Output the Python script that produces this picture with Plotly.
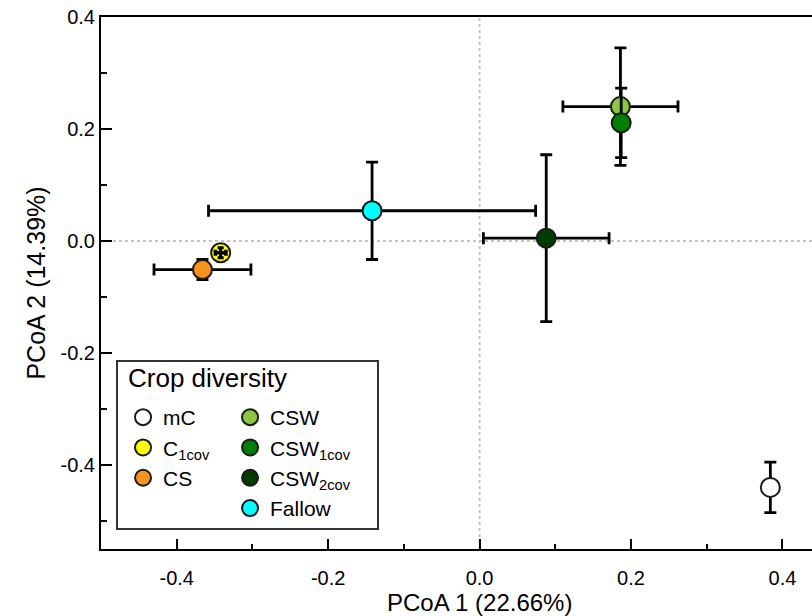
import plotly.graph_objects as go

# ---- data ----
groups = ["mC", "C<sub>1cov</sub>", "CS", "CSW", "CSW<sub>1cov</sub>", "CSW<sub>2cov</sub>", "Fallow"]
pc1 = [0.384, -0.342, -0.366, 0.186, 0.187, 0.088, -0.142]
pc2 = [-0.440, -0.021, -0.051, 0.240, 0.211, 0.005, 0.054]
pc1_err = [0.0, 0.007, 0.064, 0.076, 0.0, 0.083, 0.216]
pc2_err = [0.045, 0.009, 0.018, 0.105, 0.062, 0.149, 0.087]
colors = ["#ffffff", "#ffff00", "#f7941d", "#8dc63f", "#008000", "#003b00", "#00ffff"]
legend_column = ["a", "a", "a", "b", "b", "b", "b"]

x_ticks = [-0.4, -0.2, 0.0, 0.2, 0.4]
x_ticklabels = ["-0.4", "-0.2", "0.0", "0.2", "0.4"]
x_minor = [-0.5, -0.3, -0.1, 0.1, 0.3]
y_ticks = [-0.4, -0.2, 0.0, 0.2, 0.4]
y_ticklabels = ["-0.4", "-0.2", "0.0", "0.2", "0.4"]
y_minor = [-0.5, -0.3, -0.1, 0.1, 0.3]

x_title = "PCoA 1 (22.66%)"
y_title = "PCoA 2 (14.39%)"
legend_title = "Crop diversity"

FONT = "Arial, 'Liberation Sans', sans-serif"

fig = go.Figure()

draw_order = [0, 2, 1, 6, 5, 3, 4]
for i in draw_order:
    fig.add_trace(go.Scatter(
        x=[pc1[i]], y=[pc2[i]],
        mode="markers",
        name=groups[i],
        legendgroup=legend_column[i],
        legendrank=i + 1,
        legendwidth=62 if legend_column[i] == "a" else 80,
        marker=dict(size=19, color=colors[i], line=dict(color="#1a1a1a", width=2)),
        error_x=dict(type="data", array=[pc1_err[i]], color="black", thickness=2.8, width=6),
        error_y=dict(type="data", array=[pc2_err[i]], color="black", thickness=2.8, width=6),
        hoverinfo="skip",
    ))

# small error cross of C1cov drawn over its marker
fig.add_trace(go.Scatter(
    x=[pc1[1]], y=[pc2[1]], mode="markers", showlegend=False,
    marker=dict(size=1, color="rgba(0,0,0,0)"),
    error_x=dict(type="data", array=[pc1_err[1]], color="black", thickness=3.5, width=3),
    error_y=dict(type="data", array=[pc2_err[1]], color="black", thickness=3, width=3),
    hoverinfo="skip",
))

# dotted zero reference lines
fig.add_shape(type="line", xref="x", yref="paper", x0=0, x1=0, y0=0, y1=1,
              line=dict(color="#c4c4c4", width=2, dash="dot"), layer="below")
fig.add_shape(type="line", xref="paper", yref="y", x0=0, x1=1, y0=0, y1=0,
              line=dict(color="#c4c4c4", width=2, dash="dot"), layer="below")

# legend frame
fig.add_shape(type="rect", xref="paper", yref="paper",
              x0=0.0225, x1=0.3896, y0=0.0376, y1=0.3534,
              line=dict(color="#333333", width=2), fillcolor="white", layer="below")

# legend title
fig.add_annotation(text=legend_title, xref="paper", yref="paper",
                   x=0.0352, y=0.3214, xanchor="left", yanchor="middle",
                   showarrow=False, font=dict(size=26, family=FONT, color="black"))

# x-axis title (centred on x = 0 like the original, whose axis extends past the crop)
fig.add_annotation(text=x_title, xref="x", yref="paper", x=0, y=0,
                   xanchor="center", yanchor="middle", yshift=-53,
                   showarrow=False, font=dict(size=24, family=FONT, color="black"))

axis_common = dict(
    showgrid=False, zeroline=False, showline=True, linecolor="black", linewidth=2,
    ticks="inside", tickwidth=2, tickcolor="black", automargin=False,
    tickfont=dict(size=20, family=FONT, color="black"),
)

fig.update_layout(
    width=812, height=616,
    margin=dict(l=101, r=0, t=17, b=67),
    plot_bgcolor="white", paper_bgcolor="white",
    font=dict(family=FONT, color="black"),
    xaxis=dict(
        range=[-0.5, 0.439], tickmode="array", tickvals=x_ticks, ticktext=x_ticklabels,
        ticklen=10, mirror=True,
        minor=dict(tickmode="array", tickvals=x_minor, ticks="inside", ticklen=5, tickwidth=2, tickcolor="black"),
        ticklabelstandoff=10,
        **axis_common,
    ),
    yaxis=dict(
        range=[-0.55, 0.4], tickmode="array", tickvals=y_ticks, ticktext=y_ticklabels,
        ticklen=11,
        minor=dict(tickmode="array", tickvals=y_minor, ticks="inside", ticklen=6, tickwidth=2, tickcolor="black"),
        title=dict(text=y_title, font=dict(size=25, family=FONT), standoff=8),
        ticklabelstandoff=0,
        **axis_common,
    ),
    legend=dict(
        orientation="h", traceorder="grouped",
        x=0.031, xanchor="left", y=0.2857, yanchor="top",
        bgcolor="rgba(0,0,0,0)", borderwidth=0,
        font=dict(size=21, family=FONT, color="black"),
        itemclick=False, itemdoubleclick=False,
    ),
)

fig.write_html(
    "out.html",
    config={"displayModeBar": False},
    post_script="document.body.style.margin='0';document.body.style.overflow='hidden';",
)
